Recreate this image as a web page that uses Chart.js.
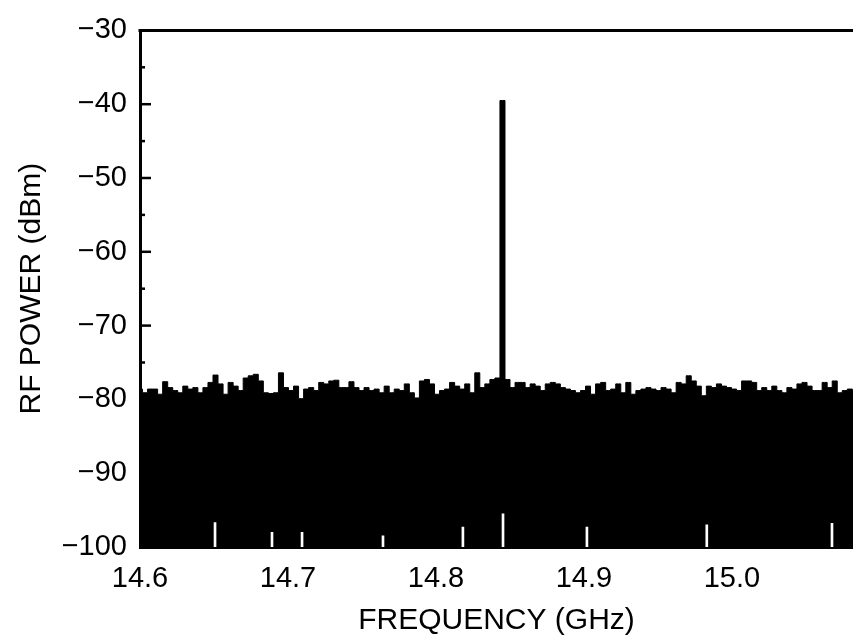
<!DOCTYPE html>
<html>
<head>
<meta charset="utf-8">
<script src="https://cdn.jsdelivr.net/npm/chart.js@4/dist/chart.umd.min.js"></script>
<style>
  body { margin: 0; background: #fff; }
  #wrap { width: 853px; height: 639px; }
</style>
</head>
<body>
<div id="wrap"><canvas id="spectrumChart"></canvas></div>
<script>
// sweep grid of the analyser (GHz)
const sweepStart = 14.6;
const sweepStep = 0.0034018;

// trace, one value per sweep point (dBm)
const powerDbm = [
  -78.6, -79.1, -78.6, -78.6, -79.3, -77.6, -78.4, -78.8, -79.1, -78.2, -78.6, -78.4,
  -79.1, -78.4, -77.7, -76.7, -77.9, -79.3, -77.7, -78.2, -78.8, -77.1, -76.8, -76.6,
  -77.5, -79.1, -79.2, -79.1, -76.4, -78.4, -78.8, -78.2, -79.9, -78.6, -78.4, -78.8,
  -77.7, -77.9, -77.5, -77.4, -78.4, -78.4, -77.6, -78.4, -78.8, -78.4, -78.8, -78.6,
  -79.1, -78.2, -79.1, -78.6, -78.8, -77.9, -79.1, -79.8, -77.5, -77.3, -77.9, -79.3,
  -78.8, -78.6, -77.7, -78.2, -78.6, -77.9, -79.1, -76.4, -78.4, -77.9, -77.3, -77.1,
  -39.5,
  -77.3, -78.4, -77.7, -77.7, -78.4, -77.9, -78.2, -78.8, -77.9, -77.7, -77.9, -78.4,
  -78.6, -78.8, -79.1, -78.8, -78.2, -79.3, -77.9, -77.7, -78.8, -78.6, -77.9, -79.1,
  -77.7, -79.3, -78.8, -78.6, -78.4, -78.6, -78.8, -78.4, -78.6, -79.1, -77.7, -77.9,
  -76.8, -77.5, -78.2, -79.5, -78.2, -78.4, -77.9, -78.2, -78.4, -78.6, -78.8, -77.5,
  -77.5, -77.7, -78.8, -78.4, -78.8, -78.2, -78.8, -79.1, -78.4, -78.6, -77.9, -77.7,
  -78.2, -78.8, -78.8, -77.7, -78.4, -77.5, -79.1, -78.8, -78.6, -78.8
];

// deep dips near the bottom of the noise (white slivers)
const dipFreq = [14.6507, 14.6892, 14.7095, 14.7642, 14.8182, 14.8453, 14.902, 14.983, 15.0676];
const dipTop = [-96.7, -98.0, -98.0, -98.5, -97.3, -95.5, -97.3, -97.0, -96.8];

const yTicks = [-100, -90, -80, -70, -60, -50, -40, -30];
const xTicks = [14.6, 14.7, 14.8, 14.9, 15.0];

const tracePoints = powerDbm.map((p, i) => ({ x: sweepStart + i * sweepStep, y: p }));
const dipBars = dipFreq.map((f, i) => ({ x: f, y: [-100, dipTop[i]] }));

const frame = {
  id: 'frame',
  afterDatasetsDraw(chart) {
    const { ctx, chartArea, scales: { y } } = chart;
    ctx.save();
    ctx.strokeStyle = '#000';
    ctx.lineWidth = 3;
    ctx.beginPath();
    ctx.moveTo(chartArea.left - 1.5, chartArea.top);
    ctx.lineTo(chartArea.right, chartArea.top);
    ctx.stroke();
    // inward ticks on the left axis
    ctx.lineWidth = 2.5;
    for (let v = -95; v <= -35; v += 5) {
      const py = y.getPixelForValue(v);
      const len = v % 10 === 0 ? 11 : 5;
      ctx.beginPath();
      ctx.moveTo(chartArea.left, py);
      ctx.lineTo(chartArea.left + len, py);
      ctx.stroke();
    }
    ctx.restore();
  }
};

const ctx = document.getElementById('spectrumChart').getContext('2d');
new Chart(ctx, {
  data: {
    datasets: [
      {
        type: 'line',
        data: tracePoints,
        borderColor: '#000',
        backgroundColor: '#000',
        borderWidth: 1,
        pointRadius: 0,
        stepped: 'middle',
        fill: 'start',
        order: 2
      },
      {
        type: 'bar',
        data: dipBars,
        backgroundColor: '#fff',
        barThickness: 2,
        order: 1
      }
    ]
  },
  options: {
    responsive: true,
    maintainAspectRatio: false,
    animation: false,
    layout: { padding: { top: 22, left: 0, right: 0, bottom: 0 } },
    plugins: {
      legend: { display: false },
      tooltip: { enabled: false }
    },
    scales: {
      x: {
        type: 'linear',
        offset: false,
        min: 14.6,
        max: 15.0818,
        afterFit: s => { s.height = 92; },
        afterBuildTicks: s => { s.ticks = xTicks.map(v => ({ value: v })); },
        grid: { display: false, drawTicks: false, offset: false },
        border: { display: true, color: '#000', width: 3 },
        ticks: {
          autoSkip: false,
          maxRotation: 0,
          padding: 15,
          color: '#000',
          font: { family: 'Liberation Sans', size: 29 },
          callback: v => v.toFixed(1)
        },
        title: {
          display: true,
          text: 'FREQUENCY (GHz)',
          color: '#000',
          font: { family: 'Liberation Sans', size: 30 },
          padding: { top: 0, bottom: 0 }
        }
      },
      y: {
        min: -100,
        max: -30,
        afterFit: s => { s.width = 140; },
        afterBuildTicks: s => { s.ticks = yTicks.map(v => ({ value: v })); },
        grid: { display: false, drawTicks: false },
        border: { display: true, color: '#000', width: 3 },
        ticks: {
          padding: 13,
          color: '#000',
          font: { family: 'Liberation Sans', size: 29 },
          callback: v => '\u2212' + Math.abs(v)
        },
        title: {
          display: true,
          text: 'RF POWER (dBm)',
          color: '#000',
          font: { family: 'Liberation Sans', size: 30 },
          padding: { top: 14, bottom: 0 }
        }
      }
    }
  },
  plugins: [frame]
});
</script>
</body>
</html>
